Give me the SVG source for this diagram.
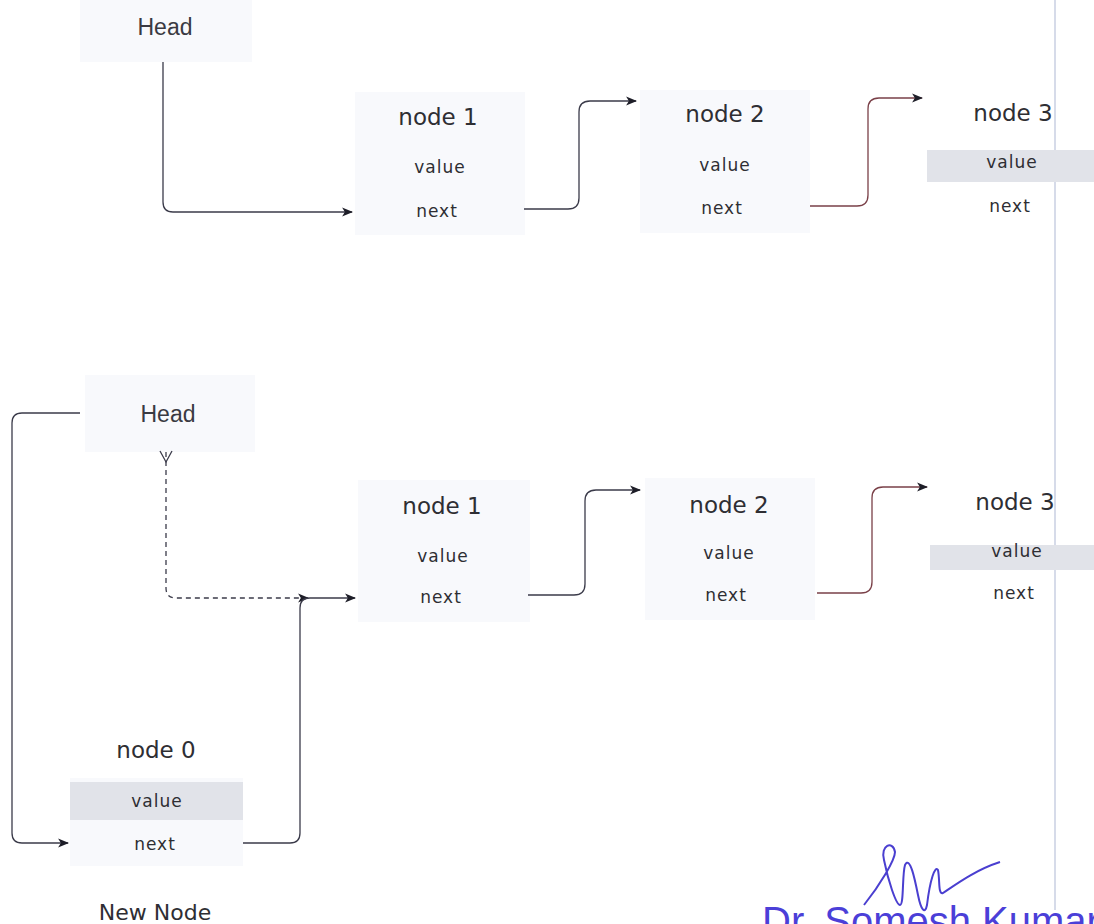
<svg xmlns="http://www.w3.org/2000/svg" width="1094" height="924" viewBox="0 0 1094 924">
<style>
.box{fill:#f8f9fc;stroke:none}
.band{fill:#e1e3e9}
.t{font-family:"DejaVu Sans",sans-serif;fill:#2e2e33;text-anchor:middle}
.title{font-size:23px}
.field{font-size:17px;letter-spacing:1px}
.head{font-family:"Liberation Sans",Arial,sans-serif;font-size:23px;fill:#3a3a42;text-anchor:middle}
.c{fill:none;stroke:#3b3b4a;stroke-width:1.3}
.cr{fill:none;stroke:#7a4048;stroke-width:1.3}
.d{fill:none;stroke:#3b3b4a;stroke-width:1.3;stroke-dasharray:5 4}
</style>
<defs>
<marker id="ah" viewBox="0 0 10 10" refX="9" refY="5" markerWidth="11" markerHeight="11" markerUnits="userSpaceOnUse" orient="auto">
<path d="M0,1 L10,5 L0,9 L2.5,5 Z" fill="#1e1e28"/>
</marker>
</defs>
<rect width="1094" height="924" fill="#ffffff"/>
<line x1="1055" y1="0" x2="1055" y2="910" stroke="#c9cfe2" stroke-width="1.5"/>

<g id="head-top">
<rect class="box" x="80" y="0" width="172" height="62"/>
<text class="head" x="165" y="35">Head</text>
</g>
<g id="node1-top">
<rect class="box" x="355" y="92" width="170" height="143"/>
<text class="t title" x="438" y="125">node 1</text>
<text class="t field" x="440" y="173">value</text>
<text class="t field" x="437" y="217">next</text>
</g>
<g id="node2-top">
<rect class="box" x="640" y="90" width="170" height="143"/>
<text class="t title" x="725" y="122">node 2</text>
<text class="t field" x="725" y="171">value</text>
<text class="t field" x="722" y="214">next</text>
</g>
<g id="node3-top">
<rect class="band" x="927" y="150" width="167" height="32"/>
<text class="t title" x="1013" y="121">node 3</text>
<text class="t field" x="1012" y="168">value</text>
<text class="t field" x="1010" y="212">next</text>
</g>

<g id="head-bottom">
<rect class="box" x="85" y="375" width="170" height="77"/>
<text class="head" x="168" y="422">Head</text>
</g>
<g id="node1-bottom">
<rect class="box" x="358" y="480" width="172" height="142"/>
<text class="t title" x="442" y="514">node 1</text>
<text class="t field" x="443" y="562">value</text>
<text class="t field" x="441" y="603">next</text>
</g>
<g id="node2-bottom">
<rect class="box" x="645" y="478" width="170" height="142"/>
<text class="t title" x="729" y="513">node 2</text>
<text class="t field" x="729" y="559">value</text>
<text class="t field" x="726" y="601">next</text>
</g>
<g id="node3-bottom">
<rect class="band" x="930" y="545" width="164" height="25"/>
<text class="t title" x="1015" y="510">node 3</text>
<text class="t field" x="1017" y="557">value</text>
<text class="t field" x="1014" y="599">next</text>
</g>
<g id="node0">
<rect class="box" x="70" y="778" width="173" height="88"/>
<rect class="band" x="70" y="782" width="173" height="38"/>
<text class="t title" x="156" y="758">node 0</text>
<text class="t field" x="157" y="807">value</text>
<text class="t field" x="155" y="850">next</text>
<text class="t" x="155" y="920" font-size="22">New Node</text>
</g>

<g id="connectors">
<path class="c" d="M163,62 V202 Q163,212 173,212 H352" marker-end="url(#ah)"/>
<path class="c" d="M524,209 H568 Q579,209 579,198 V112 Q579,101 590,101 H636" marker-end="url(#ah)"/>
<path class="cr" d="M810,206 H857 Q868,206 868,195 V109 Q868,98 879,98 H922" marker-end="url(#ah)"/>
<path class="c" d="M80,413 H22 Q12,413 12,423 V833 Q12,843 22,843 H68" marker-end="url(#ah)"/>
<path class="d" d="M166,452 V588 Q166,598 176,598 H308" marker-end="url(#ah)"/>
<path class="c" d="M160,451 L166,462 L172,451"/>
<path class="c" d="M243,843 H290 Q300,843 300,833 V608 Q300,598 310,598 H355" marker-end="url(#ah)"/>
<path class="c" d="M528,595 H574 Q585,595 585,584 V501 Q585,490 596,490 H640" marker-end="url(#ah)"/>
<path class="cr" d="M817,593 H861 Q872,593 872,582 V498 Q872,487 883,487 H927" marker-end="url(#ah)"/>
</g>

<g id="signature">
<path d="M864,905 C880,885 895,860 895,852 C893,840 880,845 884,860 C888,880 896,905 900,905 C904,905 902,875 905,865 C910,855 915,880 918,895 C921,910 925,915 927,905 C930,880 935,865 938,870 C940,880 938,895 943,893 C955,885 975,870 1000,862" fill="none" stroke="#4a3fd0" stroke-width="2"/>
<text x="762" y="935" font-family="Liberation Sans,Arial,sans-serif" font-size="40" fill="#4b3fd8">Dr. Somesh Kumar</text>
</g>
</svg>
